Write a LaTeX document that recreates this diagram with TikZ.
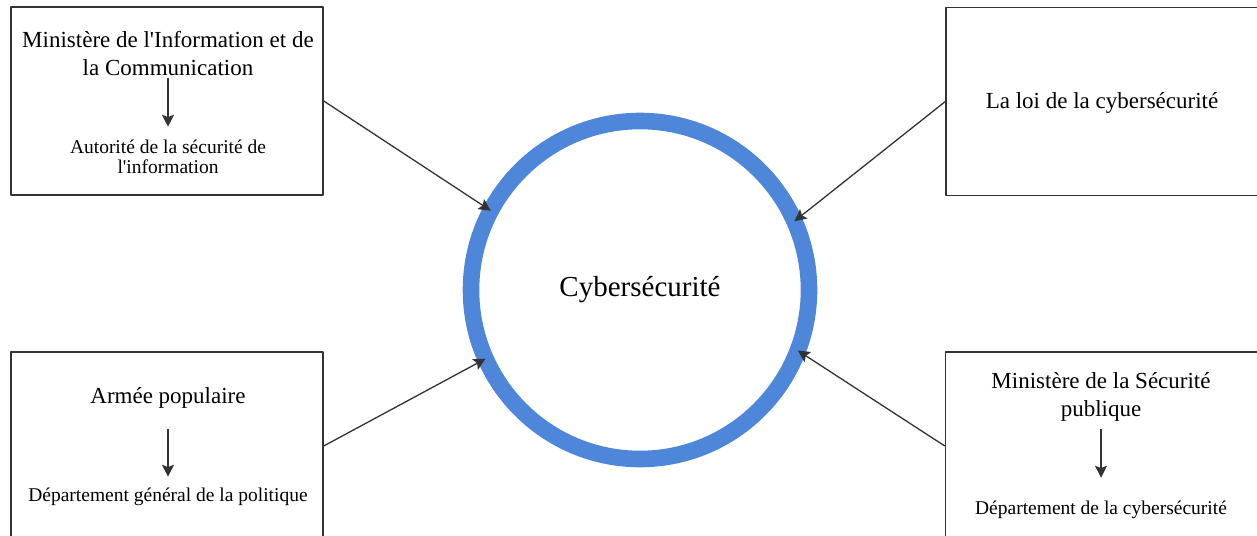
\documentclass[tikz,border=0pt]{standalone}
\usepackage{fontspec}
\setmainfont{Liberation Serif}
\usetikzlibrary{arrows.meta}
\definecolor{ringblue}{RGB}{78,134,217}
\definecolor{linegray}{RGB}{51,51,51}
\begin{document}
\begin{tikzpicture}[x=0.5pt,y=-0.5pt,line join=round,>={Stealth[length=6pt,width=6pt,inset=1.2pt]},
    box/.style={draw=linegray,line width=0.7pt,minimum width=156pt,minimum height=94pt,inner sep=0pt},
    head/.style={font=\fontsize{11.5}{14}\selectfont,align=center,inner sep=0pt},
    sub/.style={font=\fontsize{9.75}{10}\selectfont,align=center,inner sep=0pt},
    link/.style={->,draw=linegray,line width=0.65pt}]
    \useasboundingbox (0,0) rectangle (1257,535);
    % centre
    \node[circle,draw=ringblue,line width=8.3pt,minimum size=169pt,outer sep=0pt,
        font=\fontsize{14.5}{17}\selectfont] (cyb) at (640,290) {Cybersécurité};
    % boxes
    \node[box] (minfo) at (167,101) {};
    \node[box] (loi) at (1102,101.5) {};
    \node[box] (armee) at (167,446) {};
    \node[box] (msp) at (1101.5,446) {};
    % texts in the boxes
    \node[head] (minfoT) at (168,54) {Ministère de l\textquotesingle Information et de\\la Communication};
    \node[sub] (minfoS) at (168,157) {Autorité de la sécurité de\\l\textquotesingle information};
    \node[head] (loiT) at (1102,103) {La loi de la cybersécurité};
    \node[head] (armeeT) at (168,398) {Armée populaire};
    \node[sub] (armeeS) at (168,497) {Département général de la politique};
    \node[head] (mspT) at (1101,397) {Ministère de la Sécurité\\publique};
    \node[sub] (mspS) at (1101,510) {Département de la cybersécurité};
    \draw[link,shorten <=0.5pt,shorten >=6.5pt] (minfoT.south) -- (minfoS.north);
    \draw[link,shorten <=10pt,shorten >=5.5pt] (armeeT.south) -- (armeeS.north);
    \draw[link,shorten <=3.5pt,shorten >=11.5pt] (mspT.south) -- (mspS.north);
    % links to the centre
    \draw[link] (minfo.east) -- (cyb.152);
    \draw[link] (armee.east) -- (cyb.204);
    \draw[link] (loi.west) -- (cyb.24);
    \draw[link] (msp.west) -- (cyb.339);
\end{tikzpicture}
\end{document}
